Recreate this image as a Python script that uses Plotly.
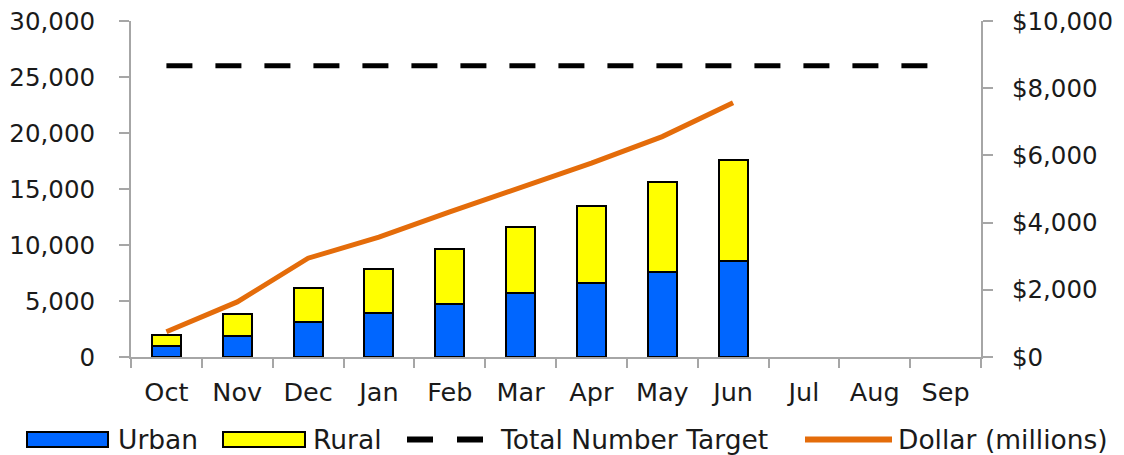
import plotly.graph_objects as go

months = ["Oct", "Nov", "Dec", "Jan", "Feb", "Mar", "Apr", "May", "Jun", "Jul", "Aug", "Sep"]
urban = [950, 1900, 3100, 3900, 4750, 5700, 6600, 7600, 8600, None, None, None]
rural = [1000, 1950, 3100, 4000, 4850, 5900, 6900, 8000, 9000, None, None, None]
target = [26000] * 12
dollar = [750, 1640, 2940, 3570, 4320, 5060, 5770, 6560, 7570, None, None, None]

left_ticks = [0, 5000, 10000, 15000, 20000, 25000, 30000]
right_ticks = [0, 2000, 4000, 6000, 8000, 10000]

BLUE = "#0066FF"
YELLOW = "#FFFF00"
ORANGE = "#E46C0A"
GRAY = "#A6A6A6"
TXT = "#1a1a1a"
LEG_FONT = "DejaVu Sans, Verdana, sans-serif"
NUM_FONT = "DejaVu Sans, Verdana, sans-serif"

W, H = 1124, 455
L, R, T, B = 131, 143, 21, 98
PW, PH = W - L - R, H - T - B


def px(x):
    return (x - L) / PW


def py(y):
    return (H - B - y) / PH


fig = go.Figure()
fig.add_trace(go.Bar(x=months, y=urban, name="Urban", marker=dict(color=BLUE, line=dict(color="black", width=2))))
fig.add_trace(go.Bar(x=months, y=rural, name="Rural", marker=dict(color=YELLOW, line=dict(color="black", width=2))))
fig.add_trace(go.Scatter(x=months, y=target, name="Total Number Target", mode="lines",
                         line=dict(color="black", width=5, dash="26px,23px")))
fig.add_trace(go.Scatter(x=months, y=dollar, name="Dollar (millions)", mode="lines", yaxis="y2",
                         line=dict(color=ORANGE, width=5)))

fig.update_layout(
    width=W, height=H,
    margin=dict(l=L, r=R, t=T, b=B, autoexpand=False),
    barmode="stack", bargap=0.59,
    plot_bgcolor="white", paper_bgcolor="white",
    showlegend=False,
    xaxis=dict(
        type="category", categoryorder="array", categoryarray=months,
        showgrid=False, showline=True, linecolor=GRAY, linewidth=2, automargin=False,
        ticks="outside", tickson="boundaries", ticklen=9, tickcolor=GRAY, tickwidth=2,
        tickfont=dict(family=LEG_FONT, size=25.5, color=TXT), ticklabelstandoff=11,
        range=[-0.5, 11.5], fixedrange=True,
    ),
    yaxis=dict(
        range=[0, 30000], tickvals=left_ticks, tickformat=",", automargin=False,
        showgrid=False, showline=True, linecolor=GRAY, linewidth=2, zeroline=False,
        ticks="outside", ticklen=10, tickcolor=GRAY, tickwidth=2,
        tickfont=dict(family=NUM_FONT, size=24.5, color=TXT), ticklabelstandoff=19,
    ),
    yaxis2=dict(
        range=[0, 10000], tickvals=right_ticks, tickformat="$,", automargin=False,
        overlaying="y", side="right",
        showgrid=False, showline=True, linecolor=GRAY, linewidth=2, zeroline=False,
        ticks="outside", ticklen=10, tickcolor=GRAY, tickwidth=2,
        tickfont=dict(family=NUM_FONT, size=24.5, color=TXT), ticklabelstandoff=14,
    ),
)

# Custom legend (matching wide swatches of the original)
shapes = []
ann = []
ly = 439.5
shapes.append(dict(type="rect", xref="paper", yref="paper", x0=px(27), x1=px(108), y0=py(447), y1=py(432),
                   fillcolor=BLUE, line=dict(color="black", width=2)))
ann.append(dict(text="Urban", x=px(116), y=py(ly)))
shapes.append(dict(type="rect", xref="paper", yref="paper", x0=px(223), x1=px(305), y0=py(447), y1=py(432),
                   fillcolor=YELLOW, line=dict(color="black", width=2)))
ann.append(dict(text="Rural", x=px(311), y=py(ly)))
for a, b in [(407, 433), (457, 483)]:
    shapes.append(dict(type="line", xref="paper", yref="paper", x0=px(a), x1=px(b), y0=py(ly), y1=py(ly),
                       line=dict(color="black", width=6)))
ann.append(dict(text="Total Number Target", x=px(498), y=py(ly)))
shapes.append(dict(type="line", xref="paper", yref="paper", x0=px(805), x1=px(892), y0=py(ly), y1=py(ly),
                   line=dict(color=ORANGE, width=6)))
ann.append(dict(text="Dollar (millions)", x=px(896), y=py(ly)))

for a in ann:
    a.update(xref="paper", yref="paper", xanchor="left", yanchor="middle", showarrow=False,
             font=dict(family=LEG_FONT, size=26.5, color=TXT))

fig.update_layout(shapes=shapes, annotations=ann)

fig.write_html("out.html", config={"displayModeBar": False},
               post_script="document.body.style.margin='0';document.body.style.padding='0';")
